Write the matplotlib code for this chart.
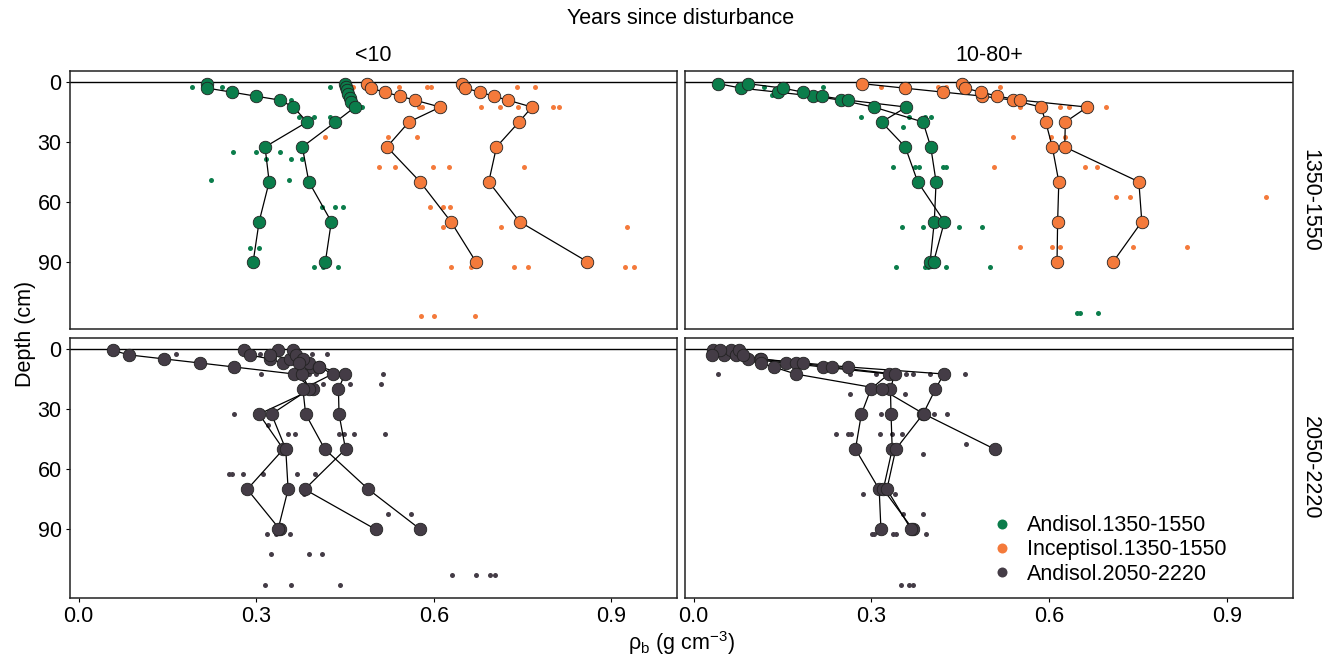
import matplotlib
matplotlib.use("Agg")
import matplotlib.pyplot as plt
from matplotlib.lines import Line2D

plt.rcParams["font.family"] = ["Liberation Sans", "DejaVu Sans"]
plt.rcParams["mathtext.fontset"] = "custom"
plt.rcParams["mathtext.rm"] = "Liberation Sans"
plt.rcParams["mathtext.it"] = "Liberation Sans:italic"

GREEN = "#0b7d4b"
ORANGE = "#f47a3b"
DARK = "#443c46"

# depth of profile means (cm)
depth_mean = [0.75, 3, 5, 7, 9, 12.5, 20, 32.5, 50, 70, 90]
depth_mean_b = [0.75, 2.25, 4, 6, 7.75, 9.75, 12.5, 20, 32.5, 50, 70, 90]
depth_mean_short = [0.75, 3, 7, 9, 12.5, 20, 32.5, 50]

# ---- <10 yr, 1350-1550 mm ----
y10_and_a = [0.2175, 0.2175, 0.2586, 0.299, 0.34, 0.363, 0.386, 0.315, 0.322, 0.305, 0.295]
y10_and_b = [0.450, 0.451, 0.4535, 0.456, 0.458, 0.461, 0.467, 0.434, 0.378, 0.389, 0.427, 0.417]
y10_inc_a = [0.488, 0.4935, 0.517, 0.5425, 0.568, 0.611, 0.558, 0.521, 0.577, 0.629, 0.671]
y10_inc_b = [0.647, 0.6535, 0.678, 0.701, 0.725, 0.766, 0.744, 0.706, 0.693, 0.745, 0.859]

y10_and_raw_x = [0.1915, 0.243, 0.425, 0.359, 0.479, 0.372, 0.398, 0.425, 0.261, 0.300,
                 0.340, 0.317, 0.359, 0.378, 0.223, 0.355, 0.411, 0.434, 0.446, 0.290,
                 0.305, 0.398, 0.413, 0.438]
y10_and_raw_d = [2.5, 2.5, 2.5, 9, 12.5, 17.5, 17.5, 17.5, 35, 35,
                 35, 38.5, 38.5, 38.5, 49, 49, 62.5, 62.5, 62.5, 83,
                 83, 92.5, 92.5, 92.5]
y10_inc_raw_x = [0.463, 0.541, 0.589, 0.595, 0.741, 0.771,
                 0.575, 0.581, 0.680, 0.7115, 0.742, 0.8016, 0.812,
                 0.417, 0.523, 0.572,
                 0.507, 0.534, 0.598, 0.626, 0.752,
                 0.594, 0.616, 0.627,
                 0.615, 0.714, 0.926,
                 0.629, 0.6625, 0.736, 0.760, 0.923, 0.9385,
                 0.5785, 0.600, 0.670]
y10_inc_raw_d = [2.5, 2.5, 2.5, 2.5, 2.5, 2.5,
                 12.5, 12.5, 12.5, 12.5, 12.5, 12.5, 12.5,
                 27.5, 27.5, 27.5,
                 42.5, 42.5, 42.5, 42.5, 42.5,
                 62.5, 62.5, 62.5,
                 72.5, 72.5, 72.5,
                 92.5, 92.5, 92.5, 92.5, 92.5, 92.5,
                 117.5, 117.5, 117.5]

# ---- 10-80+ yr, 1350-1550 mm ----
y80_and_a = [0.042, 0.080, 0.142, 0.202, 0.248, 0.304, 0.387, 0.400, 0.409, 0.406, 0.399]
y80_and_b = [0.091, 0.151, 0.184, 0.216, 0.260, 0.359, 0.317, 0.357, 0.378, 0.423, 0.405]
y80_inc_a = [0.284, 0.356, 0.421, 0.487, 0.538, 0.586, 0.594, 0.605, 0.616, 0.614, 0.613]
y80_inc_b = [0.452, 0.458, 0.485, 0.512, 0.550, 0.664, 0.627, 0.626, 0.751, 0.756, 0.708]

y80_and_raw_x = [0.118, 0.218, 0.132, 0.283, 0.364, 0.390, 0.400, 0.353, 0.336, 0.373,
                 0.381, 0.421, 0.426, 0.351, 0.387, 0.448, 0.487, 0.342, 0.390, 0.395,
                 0.426, 0.500, 0.646, 0.652, 0.682]
y80_and_raw_d = [2.5, 2.5, 6.5, 17.5, 17.5, 17.5, 17.5, 22.5, 42.5, 42.5,
                 42.5, 42.5, 42.5, 72.5, 72.5, 72.5, 72.5, 92.5, 92.5, 92.5,
                 92.5, 92.5, 116, 116, 116]
y80_inc_raw_x = [0.316, 0.412, 0.426, 0.516, 0.551, 0.618, 0.634, 0.695, 0.539, 0.602,
                 0.626, 0.506, 0.661, 0.681, 0.712, 0.736, 0.965, 0.551, 0.604, 0.618,
                 0.741, 0.832]
y80_inc_raw_d = [2.5, 2.5, 2.5, 2.5, 12.5, 12.5, 12.5, 12.5, 27.5, 27.5,
                 27.5, 42.5, 42.5, 42.5, 57.5, 57.5, 57.5, 82.5, 82.5, 82.5,
                 82.5, 82.5]

# ---- <10 yr, 2050-2220 mm ----
w10_and_a = [0.058, 0.086, 0.145, 0.2045, 0.2625, 0.364, 0.396, 0.305, 0.346, 0.285, 0.340]
w10_and_b = [0.279, 0.289, 0.323, 0.345, 0.392, 0.377, 0.390, 0.326, 0.350, 0.354, 0.337]
w10_and_c = [0.337, 0.323, 0.357, 0.390, 0.407, 0.429, 0.379, 0.3836, 0.416, 0.4896, 0.5775]
w10_and_d = [0.363, 0.368, 0.379, 0.372, 0.407, 0.450, 0.439, 0.440, 0.451, 0.382, 0.502]

w10_raw_x = [0.165, 0.306, 0.394, 0.420, 0.3076, 0.390, 0.4017, 0.514, 0.413, 0.458,
             0.5116, 0.2625, 0.320, 0.354, 0.3656, 0.440, 0.448, 0.465, 0.5177, 0.254,
             0.259, 0.278, 0.3115, 0.3696, 0.399, 0.381, 0.5227, 0.562, 0.318, 0.334,
             0.357, 0.3256, 0.390, 0.411, 0.6316, 0.672, 0.6946, 0.703, 0.3155, 0.3594,
             0.442]
w10_raw_d = [2.5, 2.5, 2.5, 2.5, 12.5, 12.5, 12.5, 12.5, 17.5, 17.5,
             17.5, 32.5, 38, 42.5, 42.5, 42.5, 42.5, 42.5, 42.5, 62.5,
             62.5, 62.5, 62.5, 62.5, 62.5, 72.5, 82.5, 82.5, 92.5, 92.5,
             92.5, 102.5, 102.5, 102.5, 112.5, 112.5, 112.5, 112.5, 117.5, 117.5,
             117.5]

# ---- 10-80+ yr, 2050-2220 mm ----
w80_and_a = [0.032, 0.051, 0.092, 0.156, 0.218, 0.329, 0.299, 0.283, 0.273, 0.313, 0.316]
w80_and_b = [0.063, 0.071, 0.112, 0.173, 0.234, 0.339, 0.332, 0.333, 0.335, 0.320, 0.370]
w80_and_c = [0.077, 0.084, 0.113, 0.184, 0.261, 0.422, 0.408, 0.387, 0.341, 0.326, 0.367]
w80_and_d = [0.044, 0.031, 0.113, 0.135, 0.172, 0.317, 0.389, 0.508]

w80_raw_x = [0.042, 0.263, 0.308, 0.359, 0.370, 0.398, 0.457, 0.264, 0.357, 0.316,
             0.405, 0.427, 0.240, 0.260, 0.266, 0.315, 0.335, 0.352, 0.459, 0.387,
             0.285, 0.339, 0.354, 0.387, 0.301, 0.305, 0.336, 0.342, 0.392, 0.349,
             0.364, 0.370]
w80_raw_d = [12.5, 12.5, 12.5, 12.5, 12.5, 12.5, 12.5, 22.5, 22.5, 32.5,
             32.5, 32.5, 42.5, 42.5, 42.5, 42.5, 42.5, 42.5, 47.5, 52.5,
             72.5, 72.5, 82.5, 82.5, 92.5, 92.5, 92.5, 92.5, 92.5, 117.5,
             117.5, 117.5]

col_labels = ["<10", "10-80+"]
row_labels = ["1350-1550", "2050-2220"]
legend_labels = ["Andisol.1350-1550", "Inceptisol.1350-1550", "Andisol.2050-2220"]
x_ticks = [0.0, 0.3, 0.6, 0.9]
y_ticks = [0, 30, 60, 90]

W, H = 1325, 662
FS = 15.5
fig = plt.figure(figsize=(W / 100, H / 100), dpi=100)


def panel(left, right, top, bottom):
    return fig.add_axes([left / W, 1 - bottom / H, (right - left) / W, (bottom - top) / H])


axes = [[panel(70, 677, 71, 329.3), panel(685, 1293, 71, 329.3)],
        [panel(70, 677, 337.7, 597.6), panel(685, 1293, 337.7, 597.6)]]


def raw(ax, x, d, color):
    ax.plot(x, d, "o", ls="none", ms=3.6, mfc=color, mec="none", zorder=2)


def profile(ax, x, d, color):
    ax.plot(x, d, "-", color="black", lw=0.9, zorder=3)
    ax.plot(x, d, "o", ls="none", ms=9.0, mfc=color, mec="#222222", mew=0.6, zorder=4)


ax = axes[0][0]
raw(ax, y10_and_raw_x, y10_and_raw_d, GREEN)
raw(ax, y10_inc_raw_x, y10_inc_raw_d, ORANGE)
profile(ax, y10_and_a, depth_mean, GREEN)
profile(ax, y10_and_b, depth_mean_b, GREEN)
profile(ax, y10_inc_a, depth_mean, ORANGE)
profile(ax, y10_inc_b, depth_mean, ORANGE)

ax = axes[0][1]
raw(ax, y80_and_raw_x, y80_and_raw_d, GREEN)
raw(ax, y80_inc_raw_x, y80_inc_raw_d, ORANGE)
profile(ax, y80_and_a, depth_mean, GREEN)
profile(ax, y80_and_b, depth_mean, GREEN)
profile(ax, y80_inc_a, depth_mean, ORANGE)
profile(ax, y80_inc_b, depth_mean, ORANGE)

ax = axes[1][0]
raw(ax, w10_raw_x, w10_raw_d, DARK)
for prof in [w10_and_a, w10_and_b, w10_and_c, w10_and_d]:
    profile(ax, prof, depth_mean, DARK)

ax = axes[1][1]
raw(ax, w80_raw_x, w80_raw_d, DARK)
profile(ax, w80_and_a, depth_mean, DARK)
profile(ax, w80_and_b, depth_mean, DARK)
profile(ax, w80_and_c, depth_mean, DARK)
profile(ax, w80_and_d, depth_mean_short, DARK)

for i in range(2):
    for j in range(2):
        ax = axes[i][j]
        ax.axhline(0, color="black", lw=1.0, zorder=1)
        ax.set_xlim(-0.0145, 1.011)
        ax.set_ylim(124, -5.6)
        ax.set_xticks(x_ticks)
        ax.set_yticks(y_ticks)
        ax.set_xticklabels([f"{t:.1f}" for t in x_ticks])
        ax.tick_params(length=3, width=0.8, labelsize=FS, pad=3, colors="black")
        for s in ax.spines.values():
            s.set_linewidth(1.1)
            s.set_color("#222222")
        if i == 0:
            ax.tick_params(axis="x", bottom=False, labelbottom=False)
        if j == 1:
            ax.tick_params(axis="y", left=False, labelleft=False)
        if i == 0:
            ax.set_title(col_labels[j], fontsize=FS, pad=7)
        if j == 1:
            ax.text(1.011, 0.5, row_labels[i], transform=ax.transAxes, rotation=270,
                    ha="left", va="center", fontsize=FS)

fig.text(681 / W, 1 - 18 / H, "Years since disturbance", ha="center", va="center", fontsize=FS)
fig.text(25 / W, 1 - 334 / H, "Depth (cm)", ha="center", va="center", rotation=90, fontsize=FS)
fig.text(681 / W, 1 - 643 / H, "ρ$_\\mathregular{b}$ (g cm$^{-3}$)", ha="center", va="center",
         fontsize=FS)

handles = [Line2D([], [], ls="none", marker="o", ms=7.2, mfc=c, mec="none")
           for c in [GREEN, ORANGE, DARK]]
fig.legend(handles, legend_labels, loc="center left", bbox_to_anchor=(991 / W, 1 - 550 / H),
           frameon=False, fontsize=FS, handlelength=1.0, handletextpad=0.65,
           labelspacing=0.15, borderpad=0, borderaxespad=0)

fig.savefig("out.png", dpi=100)
